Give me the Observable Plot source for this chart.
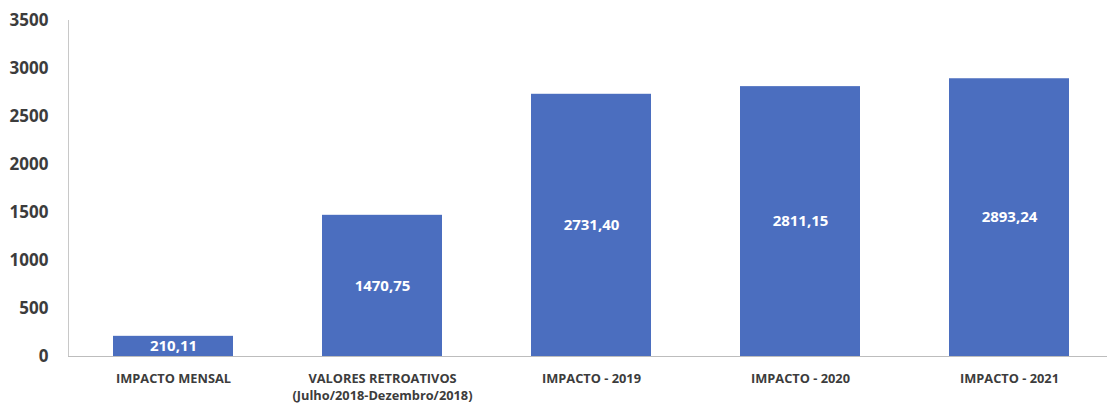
<!DOCTYPE html>
<html>
<head>
<meta charset="utf-8">
<script src="https://cdn.jsdelivr.net/npm/d3@7"></script>
<script src="https://cdn.jsdelivr.net/npm/@observablehq/plot@0.6"></script>
<style>
  html, body { margin: 0; padding: 0; background: #fff; }
  svg { display: block; }
</style>
</head>
<body>
<div id="chart"></div>
<script>
const categories = [
  "IMPACTO MENSAL",
  "VALORES RETROATIVOS\n(Julho/2018-Dezembro/2018)",
  "IMPACTO - 2019",
  "IMPACTO - 2020",
  "IMPACTO - 2021"
];
const values = [210.11, 1470.75, 2731.40, 2811.15, 2893.24];
const valueLabels = ["210,11", "1470,75", "2731,40", "2811,15", "2893,24"];
const yTicks = [0, 500, 1000, 1500, 2000, 2500, 3000, 3500];

const data = categories.map((c, i) => ({cat: c, value: values[i], label: valueLabels[i]}));

const chart = Plot.plot({
  width: 1107,
  height: 403,
  marginLeft: 68,
  marginRight: 0,
  marginTop: 20,
  marginBottom: 47,
  style: {fontFamily: "'Open Sans', sans-serif", background: "#fff"},
  x: {domain: categories, range: [67, 1115], paddingInner: 0.427, paddingOuter: 0.2135},
  y: {domain: [0, 3500]},
  marks: [
    Plot.frame({anchor: "left", stroke: "#c8c8c8"}),
    Plot.barY(data, {x: "cat", y: "value", fill: "#4b6ebf"}),
    Plot.ruleY([0], {stroke: "#bdbdbd"}),
    Plot.text(data, {
      x: "cat",
      y: d => d.value / 2,
      text: "label",
      fill: "white",
      fontSize: 15,
      fontWeight: "bold"
    }),
    Plot.axisY(yTicks, {
      tickSize: 0,
      tickPadding: 20,
      tickFormat: d => String(d),
      fontSize: 17,
      fontWeight: "bold",
      fill: "#3c3c3c",
      label: null
    }),
    Plot.axisX({
      tickSize: 0,
      tickPadding: 15,
      fontSize: 12.8,
      fontWeight: "bold",
      fill: "#3c3c3c",
      lineHeight: 1.3,
      label: null
    })
  ]
});
document.getElementById("chart").appendChild(chart);
</script>
</body>
</html>
